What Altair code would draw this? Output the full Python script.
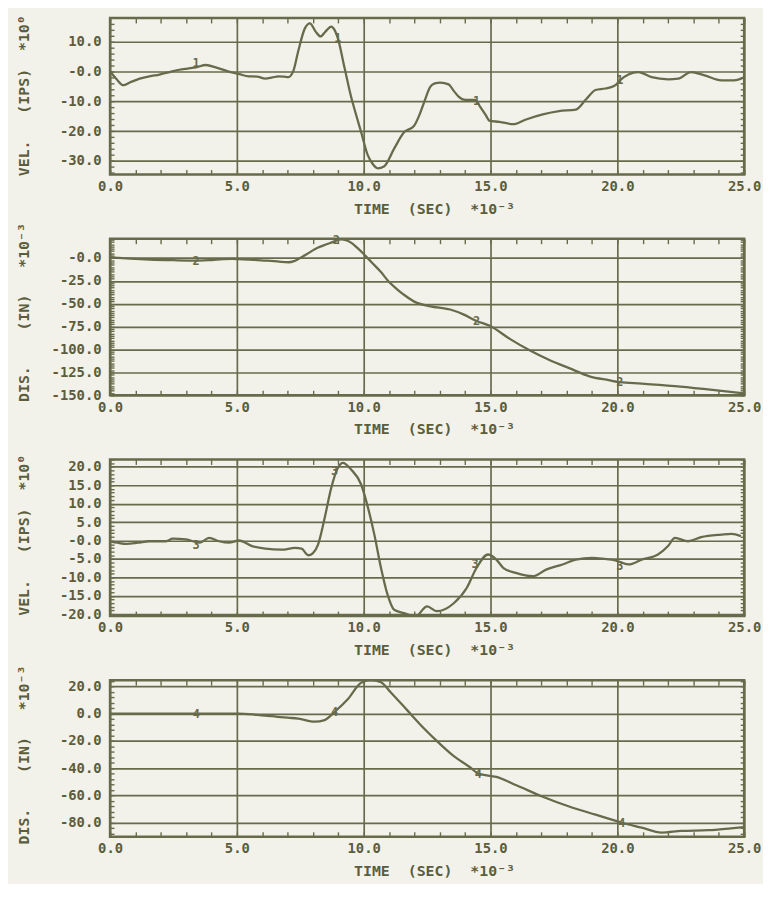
import altair as alt
import pandas as pd

BG = "#f2f2ea"
INK = "#686b4b"
TXT = "#5c5d3d"
FONT = "DejaVu Sans Mono"
SP = "\u00a0"

# ---------- panel 1 : velocity (gauge 1) ----------
T1 = [0.0, 0.25, 0.52, 0.8, 1.17, 1.55, 1.95, 2.35, 2.73, 3.05, 3.39, 3.78, 4.17, 4.5, 4.8,
      5.1, 5.47, 5.8, 6.12, 6.4, 6.64, 6.85, 7.03, 7.23, 7.42, 7.68, 7.88, 8.1, 8.3, 8.5,
      8.72, 8.85, 8.98, 9.24, 9.5, 9.7, 9.9, 10.16, 10.35, 10.55, 10.8, 11.2, 11.59, 11.98,
      12.2, 12.37, 12.63, 12.8, 13.02, 13.35, 13.55, 13.74, 14.0, 14.39, 14.58, 14.8, 14.97,
      15.36, 15.89, 16.4, 17.06, 17.7, 18.36, 18.75, 19.14, 19.53, 19.92, 20.1, 20.44, 20.83,
      21.35, 22.0, 22.4, 22.9, 23.44, 24.1, 24.6, 25.0]
V1 = [0.0, -2.5, -4.6, -3.6, -2.4, -1.6, -1.0, -0.2, 0.6, 1.0, 1.4, 2.2, 1.4, 0.5, -0.3,
      -0.9, -1.6, -1.7, -2.4, -2.0, -1.6, -1.7, -1.9, 0.3, 6.9, 14.5, 16.2, 13.5, 11.8, 13.5,
      15.1, 14.0, 11.2, 1.4, -8.4, -14.5, -20.4, -28.1, -31.0, -32.5, -31.9, -25.9, -20.4, -18.3,
      -14.5, -10.6, -5.1, -4.0, -3.7, -4.3, -6.5, -8.4, -9.5, -9.5, -11.7, -14.5, -16.6,
      -16.9, -17.7, -16.1, -14.4, -13.3, -12.8, -9.5, -6.2, -5.7, -4.6, -2.95, -1.0, -0.2,
      -1.9, -2.6, -2.4, -0.2, -1.3, -2.95, -2.95, -1.9]
M1_T = [3.39, 8.98, 14.45, 20.1]
M1_V = [3.0, 11.2, -10.0, -3.0]

# ---------- panel 2 : displacement (gauge 2) ----------
T2 = [0.0, 0.8, 1.56, 2.5, 3.39, 4.1, 4.8, 5.5, 6.12, 6.6, 7.03, 7.25, 7.42, 7.75, 8.07,
      8.4, 8.72, 9.1, 9.3, 9.5, 9.75, 10.0, 10.3, 10.68, 10.94, 11.33, 11.6, 12.1, 12.63,
      13.41, 13.93, 14.45, 14.97, 15.76, 16.54, 17.32, 18.1, 18.9, 19.66, 20.1, 20.96,
      22.27, 23.57, 25.0]
V2 = [0.6, -0.8, -1.8, -2.5, -2.9, -2.0, -1.1, -1.8, -2.9, -3.8, -4.7, -3.5, -1.1, 4.0, 9.6,
      13.5, 16.7, 20.3, 19.5, 16.7, 11.0, 4.3, -4.5, -15.4, -24.3, -34.5, -40.5, -49.1, -52.8,
      -56.3, -61.6, -68.8, -74.1, -88.4, -100.9, -111.5, -120.4, -129.3, -133.5, -135.7, -137.2,
      -140.0, -143.6, -147.9]
M2_T = [3.39, 8.92, 14.45, 20.1]
M2_V = [-2.9, 19.5, -68.8, -135.7]

# ---------- panel 3 : velocity (gauge 3) ----------
T3 = [0.0, 0.3, 0.65, 1.1, 1.56, 2.21, 2.47, 2.99, 3.52, 3.91, 4.3, 4.69, 5.08, 5.6, 6.12,
      6.77, 7.29, 7.55, 7.81, 8.0, 8.2, 8.46, 8.72, 8.98, 9.18, 9.5, 9.9, 10.1, 10.42, 10.68,
      10.94, 11.2, 11.59, 12.04, 12.5, 12.89, 13.54, 14.06, 14.45, 14.9, 15.23, 15.5, 16.0,
      16.67, 17.19, 17.84, 18.36, 19.01, 19.5, 19.92, 20.44, 20.96, 21.6, 22.0, 22.27, 22.79,
      23.3, 24.1, 24.5, 24.87]
V3 = [-0.2, -0.6, -0.9, -0.6, -0.2, -0.2, 0.5, 0.3, -0.6, 0.7, -0.2, -0.6, 0.0, -1.5, -2.2,
      -2.5, -2.0, -2.2, -4.0, -3.4, -1.1, 6.1, 14.3, 19.7, 21.1, 19.3, 15.2, 10.7, 1.6, -7.4,
      -14.7, -18.8, -19.7, -20.6, -17.9, -19.2, -17.1, -12.9, -7.4, -3.8, -5.2, -7.4, -8.8,
      -9.7, -7.9, -6.5, -5.2, -4.7, -5.0, -5.4, -6.5, -5.2, -3.8, -1.5, 0.7, -0.2,
      0.9, 1.6, 1.8, 1.2]
M3_T = [3.39, 8.85, 14.39, 20.1]
M3_V = [-1.1, 18.8, -6.5, -7.0]

# ---------- panel 4 : displacement (gauge 4) ----------
T4 = [0.0, 1.5, 3.4, 5.08, 5.8, 6.38, 7.0, 7.42, 8.07, 8.46, 8.85, 9.38, 9.9, 10.29, 10.68,
      11.07, 11.72, 12.37, 12.89, 13.54, 14.19, 14.52, 15.23, 16.02, 17.06, 18.1, 19.14,
      20.18, 20.96, 21.74, 22.53, 23.57, 24.48, 25.0]
V4 = [0.0, 0.0, 0.0, 0.0, -0.9, -1.9, -3.0, -3.6, -5.9, -4.7, 1.2, 10.7, 22.6, 24.5, 23.0,
      15.5, 2.4, -10.7, -20.2, -31.0, -39.3, -44.0, -46.4, -52.5, -60.9, -68.1, -74.1,
      -80.0, -83.6, -87.2, -86.0, -85.5, -84.1, -83.2]
M4_T = [3.4, 8.85, 14.52, 20.18]
M4_V = [0.0, 1.2, -44.0, -80.0]

# ---------- axes ----------
X_MAJOR = [0, 5, 10, 15, 20, 25]
X_MINOR = list(range(0, 26))
X_TITLE = "TIME" + SP * 2 + "(SEC)" + SP * 2 + "*10⁻³"

Y1_MAJOR = [-30, -20, -10, 0, 10]
Y1_MINOR = [-34 + 2 * i for i in range(26)]
Y2_MAJOR = [-150, -125, -100, -75, -50, -25, 0]
Y2_MINOR = [-150 + 2.5 * i for i in range(69)]
Y3_MAJOR = [-20, -15, -10, -5, 0, 5, 10, 15, 20]
Y3_MINOR = [-20 + i for i in range(43)]
Y4_MAJOR = [-80, -60, -40, -20, 0, 20]
Y4_MINOR = [-88 + 4 * i for i in range(29)]

VEL_TITLE = "VEL." + SP * 3 + "(IPS)" + SP * 2 + "*10⁰"
DIS_TITLE = "DIS." + SP * 4 + "(IN)" + SP * 3 + "*10⁻³"

PW, PH = 640, 158


def label_expr(zero_text):
    return ("datum.value == 0 ? '" + zero_text + "' : "
            "(datum.value < 0 ? '-' : '') + format(abs(datum.value), '.1f')")


def panel(t, v, mt, mv, digit, ytitle, ydom, ymajor, yminor, zero_text, title_y):
    df = pd.DataFrame({"t": t, "v": v})
    mk = pd.DataFrame({"t": mt, "v": mv, "d": [digit] * len(mt)})
    xs = alt.Scale(domain=[0, 25], nice=False, zero=False)
    ys = alt.Scale(domain=ydom, nice=False, zero=False)

    line = alt.Chart(df).mark_line(
        color=INK, strokeWidth=2.3, interpolate="monotone", clip=True
    ).encode(
        x=alt.X("t:Q", scale=xs, axis=alt.Axis(
            orient="bottom", values=X_MAJOR, grid=True, ticks=False, domain=False,
            labelExpr="format(datum.value, '.1f')", labelPadding=5,
            title=X_TITLE, titleX=327, titleY=39, titleAlign="center",
            titleBaseline="alphabetic", titleAngle=0)),
        y=alt.Y("v:Q", scale=ys, axis=alt.Axis(
            orient="left", values=ymajor, grid=True, ticks=False, domain=False,
            labelExpr=label_expr(zero_text), labelPadding=9,
            title=ytitle, titleX=-87, titleY=title_y, titleAngle=270,
            titleAlign="center", titleBaseline="middle")),
    )

    minor_a = alt.Chart(df).mark_line(opacity=0).encode(
        x=alt.X("t:Q", scale=xs, axis=alt.Axis(
            orient="top", values=X_MINOR, offset=-5, tickSize=5, labels=False,
            domain=False, grid=False, title=None)),
        y=alt.Y("v:Q", scale=ys, axis=alt.Axis(
            orient="right", values=yminor, offset=-4, tickSize=4, labels=False,
            domain=False, grid=False, title=None)),
    )
    minor_b = alt.Chart(df).mark_line(opacity=0).encode(
        x=alt.X("t:Q", scale=xs, axis=alt.Axis(
            orient="bottom", values=X_MINOR, offset=-5, tickSize=5, labels=False,
            domain=False, grid=False, title=None)),
        y=alt.Y("v:Q", scale=ys, axis=alt.Axis(
            orient="left", values=yminor, offset=-4, tickSize=4, labels=False,
            domain=False, grid=False, title=None)),
    )
    marks = alt.Chart(mk).mark_text(
        font=FONT, fontSize=12, fontWeight="bold", color=INK
    ).encode(
        x=alt.X("t:Q", scale=xs, axis=None),
        y=alt.Y("v:Q", scale=ys, axis=None),
        text="d:N",
    )
    return alt.layer(line, minor_a, minor_b, marks).resolve_axis(
        x="independent", y="independent"
    ).properties(width=PW, height=PH)


p1 = panel(T1, V1, M1_T, M1_V, "1", VEL_TITLE, [-34.6, 18.0], Y1_MAJOR, Y1_MINOR, "-0.0", 78)
p2 = panel(T2, V2, M2_T, M2_V, "2", DIS_TITLE, [-150.0, 21.0], Y2_MAJOR, Y2_MINOR, "-0.0", 74)
p3 = panel(T3, V3, M3_T, M3_V, "3", VEL_TITLE, [-20.5, 22.0], Y3_MAJOR, Y3_MINOR, "-0.0", 76)
p4 = panel(T4, V4, M4_T, M4_V, "4", DIS_TITLE, [-90.3, 24.5], Y4_MAJOR, Y4_MINOR, "0.0", 75)

chart = alt.vconcat(p1, p2, p3, p4, spacing=64.8, bounds="flush").configure(
    background=BG,
    padding={"left": 7, "top": 1, "right": 0, "bottom": 0},
).configure_view(
    stroke=INK, strokeWidth=2.5
).configure_axis(
    labelFont=FONT, labelFontSize=14, labelFontWeight="bold", labelColor=TXT,
    titleFont=FONT, titleFontSize=15, titleFontWeight="bold", titleColor=TXT,
    gridColor=INK, gridWidth=1.7, gridOpacity=1,
    tickColor=INK, tickWidth=1.4, labelOverlap=False, labelFlush=False,
)

chart.save("out.html", embed_options={"renderer": "svg", "actions": False})
